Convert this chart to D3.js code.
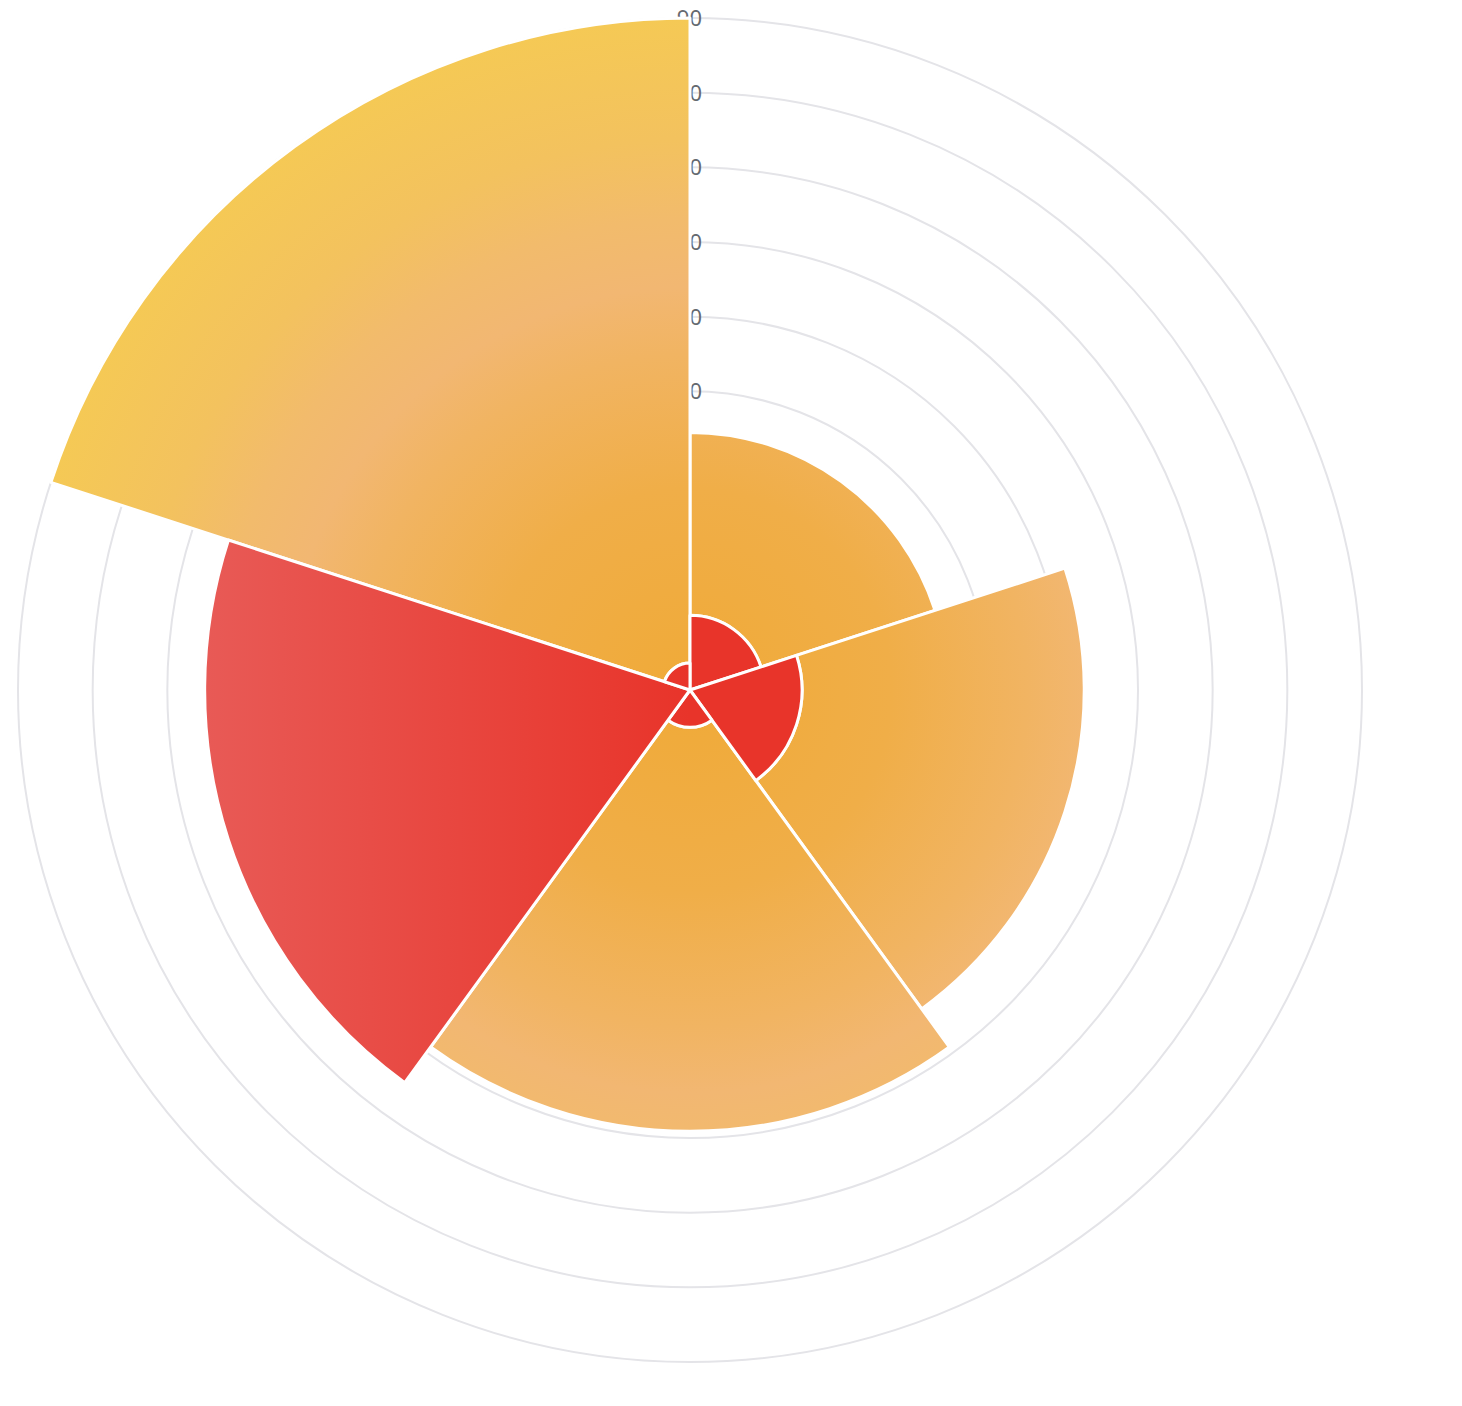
<!DOCTYPE html>
<html>
<head>
<meta charset="utf-8">
<script src="https://cdn.jsdelivr.net/npm/d3@7"></script>
<style>
  html, body { margin: 0; padding: 0; background: #ffffff; }
  svg { display: block; }
</style>
</head>
<body>
<svg id="chart" width="1462" height="1406"></svg>
<script>
// ---- data ----
const categories = ["A", "B", "C", "D", "E"];
const innerValues = [10, 15, 5, 65, 3.6];        // red series (inner stack)
const outerValues = [24.5, 37.8, 54.1, 0, 86.4]; // orange series (outer stack)
const tickValues = [10, 20, 30, 40, 50, 60, 70, 80, 90];
const axisMax = 90;

// ---- layout ----
const cx = 690, cy = 690;
const R = 672;

const svg = d3.select("#chart");
const defs = svg.append("defs");

// gradients are in the local (translated) user space of the paths
const redGrad = defs.append("linearGradient")
  .attr("id", "redGrad").attr("gradientUnits", "userSpaceOnUse")
  .attr("x1", -485).attr("y1", 0).attr("x2", 0).attr("y2", 0);
redGrad.append("stop").attr("offset", 0).attr("stop-color", "#e85a56");
redGrad.append("stop").attr("offset", 1).attr("stop-color", "#e8342a");

const orGrad = defs.append("radialGradient")
  .attr("id", "orGrad").attr("gradientUnits", "userSpaceOnUse")
  .attr("cx", 0).attr("cy", 0).attr("r", R).attr("fx", 0).attr("fy", 0);
[[0, "#f0aa38"], [0.3, "#f0ae48"], [0.5, "#f1b462"], [0.6, "#f2b772"],
 [0.7, "#f2bb6c"], [0.82, "#f3c25e"], [1, "#f5c955"]].forEach(([o, c]) =>
  orGrad.append("stop").attr("offset", o).attr("stop-color", c));

const g = svg.append("g").attr("transform", `translate(${cx},${cy})`);

const rScale = d3.scaleLinear().domain([0, axisMax]).range([0, R]);
const aScale = d3.scaleBand().domain(categories).range([0, 2 * Math.PI]).paddingInner(0).paddingOuter(0);

// grid circles
g.append("g").selectAll("circle").data(tickValues).join("circle")
  .attr("r", d => rScale(d))
  .attr("fill", "none")
  .attr("stroke", "#e4e4e8")
  .attr("stroke-width", 2);

// tick labels (drawn beneath bars)
g.append("g").selectAll("text").data(tickValues).join("text")
  .attr("x", 12)
  .attr("y", d => -rScale(d))
  .attr("dy", "0.36em")
  .attr("text-anchor", "end")
  .attr("font-family", "'Noto Sans', sans-serif")
  .attr("font-size", 22)
  .attr("fill", "#666a70")
  .text(d => d);

const arc = d3.arc();

const stacked = categories.map((c, i) => ({
  cat: c,
  inner: [0, innerValues[i]],
  outer: [innerValues[i], innerValues[i] + outerValues[i]]
}));

g.append("g").selectAll("path.outer").data(stacked.filter(d => d.outer[1] > d.outer[0])).join("path")
  .attr("class", "outer")
  .attr("d", d => arc({
    innerRadius: rScale(d.outer[0]), outerRadius: rScale(d.outer[1]),
    startAngle: aScale(d.cat), endAngle: aScale(d.cat) + aScale.bandwidth()
  }))
  .attr("fill", "url(#orGrad)")
  .attr("stroke", "#ffffff")
  .attr("stroke-width", 3)
  .attr("stroke-linejoin", "round");

g.append("g").selectAll("path.inner").data(stacked).join("path")
  .attr("class", "inner")
  .attr("d", d => arc({
    innerRadius: rScale(d.inner[0]), outerRadius: rScale(d.inner[1]),
    startAngle: aScale(d.cat), endAngle: aScale(d.cat) + aScale.bandwidth()
  }))
  .attr("fill", "url(#redGrad)")
  .attr("stroke", "#ffffff")
  .attr("stroke-width", 3)
  .attr("stroke-linejoin", "round");
</script>
</body>
</html>
